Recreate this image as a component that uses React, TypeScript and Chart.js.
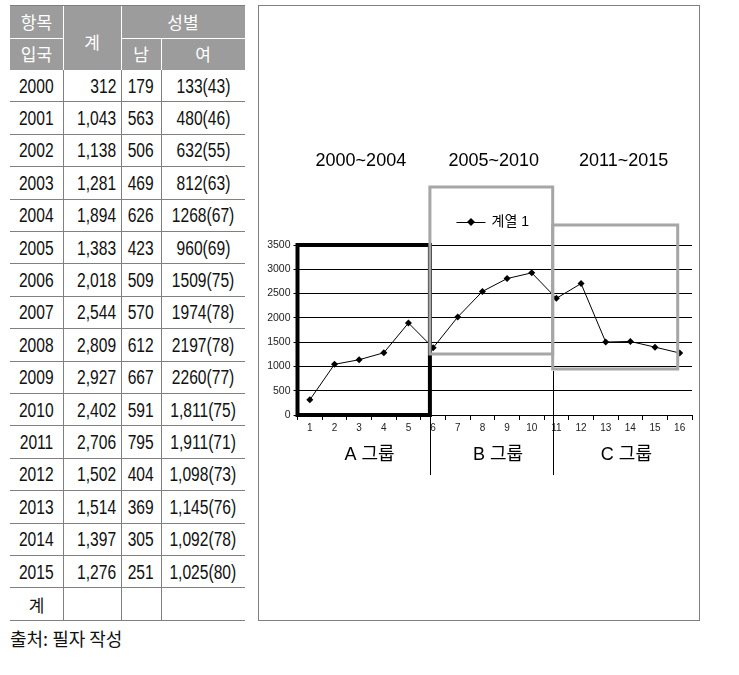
import React, { useEffect, useRef } from "react";
import { Chart, registerables } from "chart.js";

Chart.register(...registerables);

// ---- data ----
const years = [2000, 2001, 2002, 2003, 2004, 2005, 2006, 2007, 2008, 2009, 2010, 2011, 2012, 2013, 2014, 2015];
const totals = [312, 1043, 1138, 1281, 1894, 1383, 2018, 2544, 2809, 2927, 2402, 2706, 1502, 1514, 1397, 1276];
const males = [179, 563, 506, 469, 626, 423, 509, 570, 612, 667, 591, 795, 404, 369, 305, 251];
const femaleLabels = [
  "133(43)", "480(46)", "632(55)", "812(63)", "1268(67)", "960(69)", "1509(75)", "1974(78)",
  "2197(78)", "2260(77)", "1,811(75)", "1,911(71)", "1,098(73)", "1,145(76)", "1,092(78)", "1,025(80)",
];
const categories = ["1", "2", "3", "4", "5", "6", "7", "8", "9", "10", "11", "12", "13", "14", "15", "16"];
const periodTitles = ["2000~2004", "2005~2010", "2011~2015"];
const groupLabels = ["A 그룹", "B 그룹", "C 그룹"];
const seriesName = "계열 1";
const headerTop = ["항목", "계", "성별"];
const headerBottom = ["입국", "남", "여"];
const totalRowLabel = "계";
const caption = "출처: 필자 작성";

// annotation geometry in data units (category index / value)
const periodTitleCenters = [2.07, 7.46, 12.73];
const groupLabelCenters = [2.42, 7.63, 12.84];
const boxes = [
  { x0: -0.5, x1: 4.87, y0: 0, y1: 3500, color: "#000000", width: 4 },
  { x0: 4.87, x1: 9.85, y0: 1256, y1: 4694, color: "#a6a6a6", width: 3 },
  { x0: 9.85, x1: 14.92, y0: 947, y1: 3912, color: "#a6a6a6", width: 3 },
];
const separators = [
  { x: 4.87, from: 0 },
  { x: 9.85, from: 947 },
];

const latin = '"Liberation Sans", "Noto Sans CJK KR", sans-serif';
const korean = '"Noto Sans CJK KR", sans-serif';

const overlayPlugin = {
  id: "overlay",
  afterDraw(chart: any) {
    const { ctx, chartArea, scales } = chart;
    const x = scales.x;
    const y = scales.y;
    ctx.save();
    boxes.forEach((b) => {
      const xa = x.getPixelForValue(b.x0);
      const xb = x.getPixelForValue(b.x1);
      const ya = y.getPixelForValue(b.y1);
      const yb = y.getPixelForValue(b.y0);
      ctx.strokeStyle = b.color;
      ctx.lineWidth = b.width;
      ctx.strokeRect(xa, ya, xb - xa, yb - ya);
    });
    ctx.strokeStyle = "#000";
    ctx.lineWidth = 1;
    separators.forEach((s) => {
      const px = Math.round(x.getPixelForValue(s.x)) + 0.5;
      ctx.beginPath();
      ctx.moveTo(px, y.getPixelForValue(s.from) + 2);
      ctx.lineTo(px, chartArea.bottom + 60);
      ctx.stroke();
    });
    ctx.fillStyle = "#000";
    ctx.textAlign = "center";
    ctx.textBaseline = "middle";
    ctx.font = "18px " + latin;
    periodTitles.forEach((t, i) => {
      ctx.fillText(t, x.getPixelForValue(periodTitleCenters[i]), chartArea.top - 84);
    });
    ctx.font = "18px " + latin;
    groupLabels.forEach((t, i) => {
      ctx.fillText(t, x.getPixelForValue(groupLabelCenters[i]), chartArea.bottom + 40);
    });
    const ly = chartArea.top - 23;
    const lx = chartArea.left + 159;
    ctx.beginPath();
    ctx.moveTo(lx, ly + 0.5);
    ctx.lineTo(lx + 29, ly + 0.5);
    ctx.stroke();
    ctx.beginPath();
    const cx = lx + 14.5;
    ctx.moveTo(cx, ly - 4);
    ctx.lineTo(cx + 4, ly);
    ctx.lineTo(cx, ly + 4);
    ctx.lineTo(cx - 4, ly);
    ctx.closePath();
    ctx.fill();
    ctx.textAlign = "left";
    ctx.font = "14px " + latin;
    ctx.fillText(seriesName, lx + 35, ly);
    ctx.restore();
  },
};

function LineChart() {
  const ref = useRef<HTMLCanvasElement>(null);
  useEffect(() => {
    if (!ref.current) return;
    const chart = new Chart(ref.current, {
      type: "line",
      data: {
        labels: categories,
        datasets: [
          {
            label: seriesName,
            data: totals,
            borderColor: "#000",
            borderWidth: 1,
            backgroundColor: "#000",
            pointStyle: "rectRot",
            pointRadius: 3.5,
            pointBorderWidth: 0,
            pointBackgroundColor: "#000",
            tension: 0,
          },
        ],
      },
      options: {
        responsive: false,
        animation: false,
        layout: { padding: { top: 239, right: 7, left: 0, bottom: 0 } },
        plugins: { legend: { display: false }, tooltip: { enabled: false } },
        scales: {
          x: {
            type: "category",
            offset: true,
            afterFit: (s: any) => {
              s.height = 205;
            },
            grid: {
              offset: true,
              drawOnChartArea: false,
              drawTicks: true,
              tickLength: 5,
              color: "#000",
            },
            border: { display: true, color: "#000", width: 1 },
            ticks: {
              color: "#222",
              padding: 2,
              maxRotation: 0,
              autoSkip: false,
              font: { size: 10, family: latin },
            },
          },
          y: {
            min: 0,
            max: 3500,
            afterFit: (s: any) => {
              s.width = 38.5;
            },
            grid: { color: "#000", lineWidth: 1, tickLength: 4, drawTicks: true },
            border: { display: true, color: "#000" },
            ticks: {
              stepSize: 500,
              color: "#222",
              padding: 3,
              font: { size: 10.5, family: latin },
              callback: (v: any) => String(v),
            },
          },
        },
      },
      plugins: [overlayPlugin],
    });
    return () => chart.destroy();
  }, []);
  return <canvas ref={ref} width={440} height={614} style={{ display: "block", width: 440, height: 614 }} />;
}

const colX = [10, 63, 121, 161, 245];
const headTop = 5;
const headMid = 37.5;
const headBottom = 70;
const rowH = 32.4;

function abs(left: number, top: number, width: number, height: number, extra: any = {}) {
  return { position: "absolute" as const, left, top, width, height, ...extra };
}

function Narrow({ text, origin }: { text: string; origin: string }) {
  return (
    <span style={{ display: "inline-block", transform: "scaleX(0.78)", transformOrigin: origin, whiteSpace: "pre" }}>
      {text}
    </span>
  );
}

function DataTable() {
  const els: any[] = [];
  const W = colX[4] - colX[0];
  els.push(<div key="hbg" style={abs(colX[0], headTop, W, headBottom - headTop, { background: "#9c9c9c", borderTop: "1px solid #7f7f7f", boxSizing: "border-box" })} />);
  els.push(<div key="hw1" style={abs(colX[0], headMid, colX[1] - colX[0], 1, { background: "#fff" })} />);
  els.push(<div key="hw2" style={abs(colX[2], headMid, colX[4] - colX[2], 1, { background: "#fff" })} />);
  els.push(<div key="hv1" style={abs(colX[1], headTop + 1, 1, headBottom - headTop - 1, { background: "#fff" })} />);
  els.push(<div key="hv2" style={abs(colX[2], headTop + 1, 1, headBottom - headTop - 1, { background: "#fff" })} />);
  els.push(<div key="hv3" style={abs(colX[3], headMid, 1, headBottom - headMid, { background: "#fff" })} />);
  const hText = { display: "flex", alignItems: "center", justifyContent: "center", color: "#fff", fontFamily: korean, fontSize: 17 };
  els.push(<div key="ht1" style={abs(colX[0], headTop, colX[1] - colX[0], headMid - headTop, hText)}>{headerTop[0]}</div>);
  els.push(<div key="ht2" style={abs(colX[1], headTop + 4, colX[2] - colX[1], headBottom - headTop, hText)}>{headerTop[1]}</div>);
  els.push(<div key="ht3" style={abs(colX[2], headTop, colX[4] - colX[2], headMid - headTop, hText)}>{headerTop[2]}</div>);
  els.push(<div key="hb1" style={abs(colX[0], headMid, colX[1] - colX[0], headBottom - headMid, hText)}>{headerBottom[0]}</div>);
  els.push(<div key="hb2" style={abs(colX[2], headMid, colX[3] - colX[2], headBottom - headMid, hText)}>{headerBottom[1]}</div>);
  els.push(<div key="hb3" style={abs(colX[3], headMid, colX[4] - colX[3], headBottom - headMid, hText)}>{headerBottom[2]}</div>);

  const nRows = years.length + 1;
  const bottom = headBottom + nRows * rowH;
  [1, 2, 3].forEach((c) => {
    els.push(<div key={"v" + c} style={abs(colX[c], headBottom, 1, bottom - headBottom, { background: "#808080" })} />);
  });
  const cellText = { display: "flex", alignItems: "center", color: "#111", fontFamily: latin, fontSize: 20 };
  for (let i = 0; i < nRows; i++) {
    const top = headBottom + i * rowH;
    els.push(<div key={"h" + i} style={abs(colX[0], Math.round(top + rowH) - 1, W, 1, { background: "#808080" })} />);
    if (i < years.length) {
      els.push(<div key={"c0" + i} style={abs(colX[0], top, colX[1] - colX[0], rowH, { ...cellText, justifyContent: "center" })}><Narrow text={String(years[i])} origin="center" /></div>);
      els.push(<div key={"c1" + i} style={abs(colX[1], top, colX[2] - colX[1] - 5, rowH, { ...cellText, justifyContent: "flex-end" })}><Narrow text={totals[i].toLocaleString("en-US")} origin="right" /></div>);
      els.push(<div key={"c2" + i} style={abs(colX[2], top, colX[3] - colX[2], rowH, { ...cellText, justifyContent: "center" })}><Narrow text={String(males[i])} origin="center" /></div>);
      els.push(<div key={"c3" + i} style={abs(colX[3], top, colX[4] - colX[3], rowH, { ...cellText, justifyContent: "center" })}><Narrow text={femaleLabels[i]} origin="center" /></div>);
    } else {
      els.push(<div key={"c0" + i} style={abs(colX[0], top, colX[1] - colX[0], rowH, { ...cellText, justifyContent: "center", fontFamily: korean, fontSize: 17 })}>{totalRowLabel}</div>);
    }
  }
  return <>{els}</>;
}

export default function App() {
  return (
    <div style={{ position: "absolute", left: 0, top: 0, width: 739, height: 675, background: "#fff" }}>
      <DataTable />
      <div style={abs(258, 5, 442, 616, { border: "1px solid #808080", boxSizing: "border-box" })}>
        <LineChart />
      </div>
      <div style={abs(10, 626, 300, 24, { fontFamily: korean, fontSize: 18, color: "#111", lineHeight: "24px", whiteSpace: "pre" })}>{caption}</div>
    </div>
  );
}
